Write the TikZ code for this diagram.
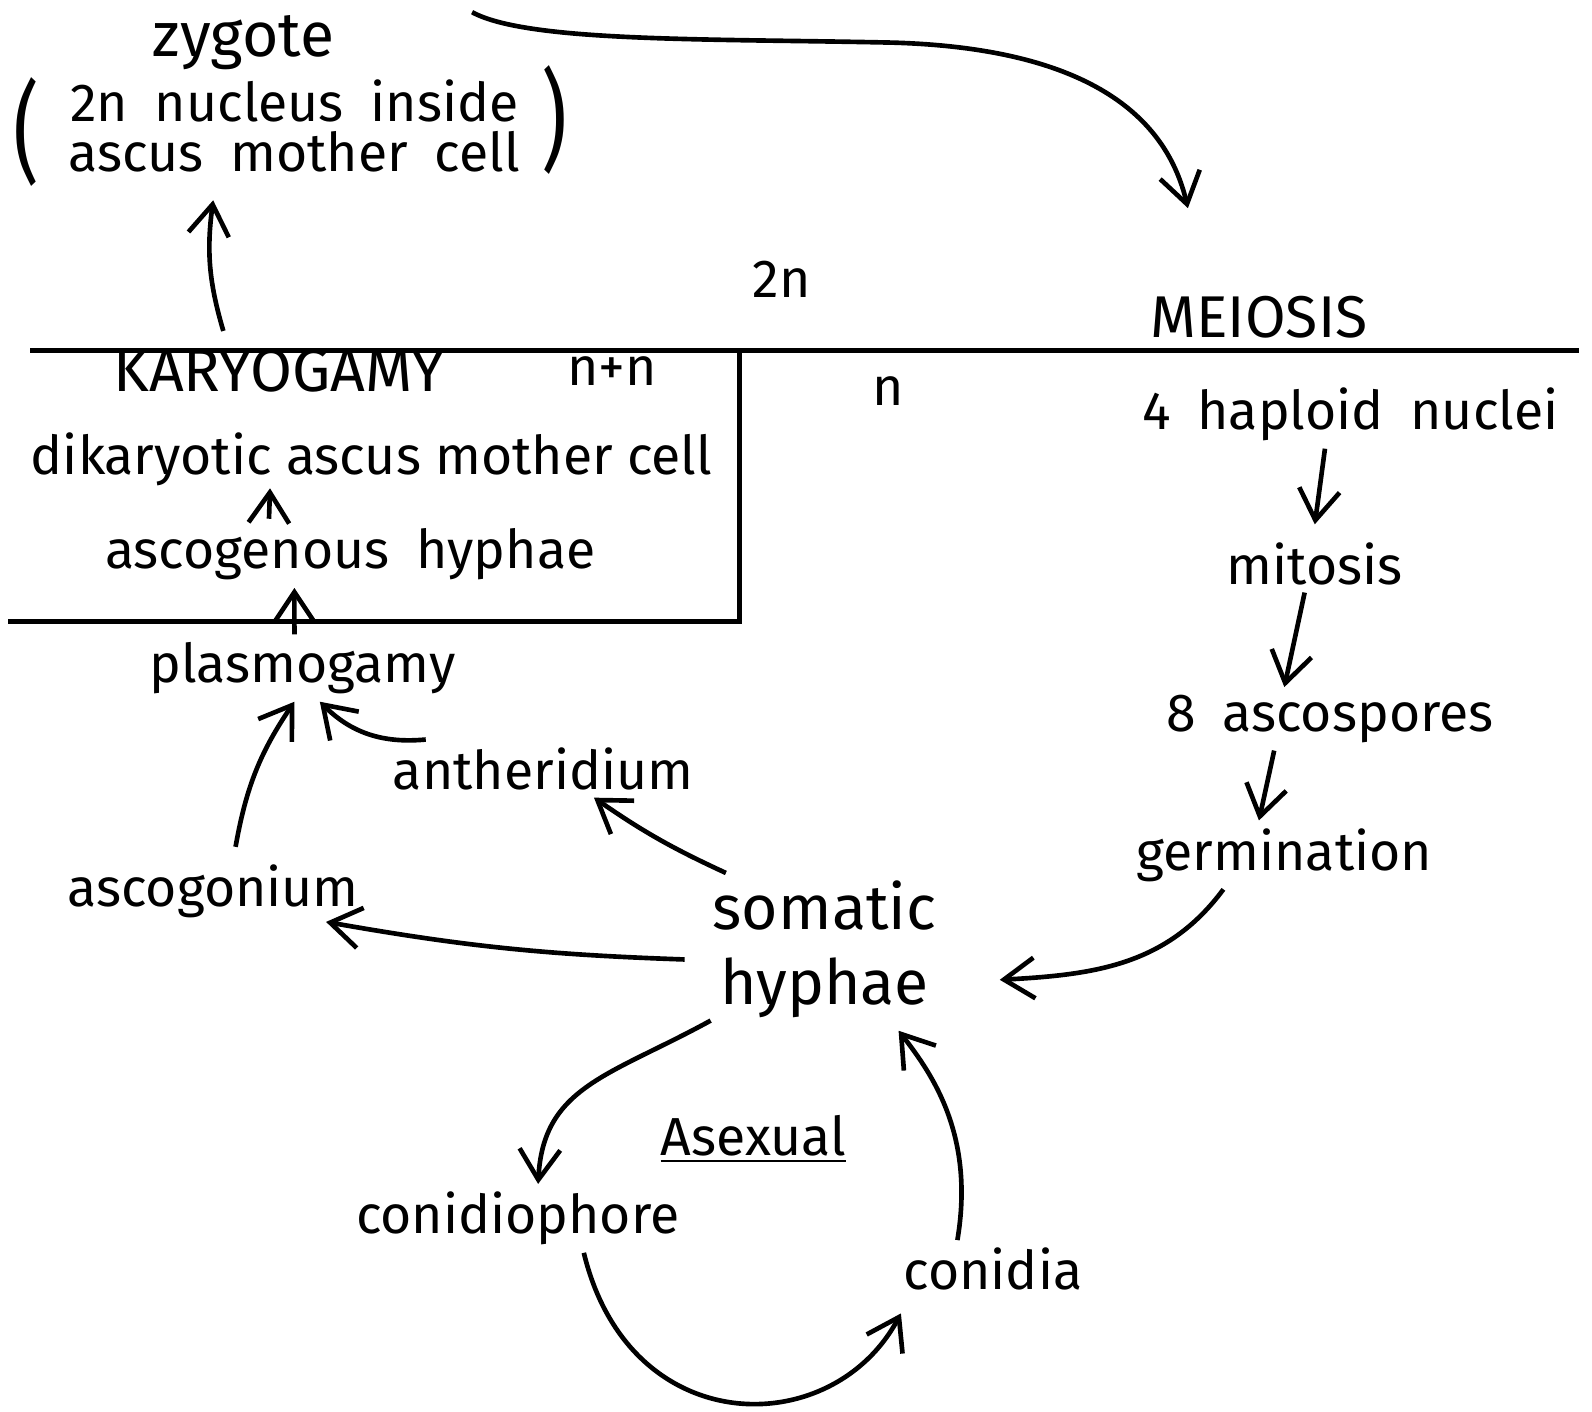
\documentclass[tikz,border=0pt]{standalone}
\usepackage{fontspec}
\setmainfont{Fira Sans}
\usetikzlibrary{arrows.meta,positioning}
\begin{document}
\begin{tikzpicture}[x=0.01cm,y=0.01cm]
        \tikzstyle{line} = [-{Straight Barb[length=3mm,width=4mm]}, line width=1.3pt]
        \tikzstyle{rule} = [line width=1.4pt]
        \tikzstyle{txt} = [inner sep=2pt, font=\fontsize{15}{18}\selectfont]
        \tikzstyle{big} = [inner sep=2pt, font=\fontsize{17.5}{21}\selectfont]
        \tikzstyle{paren} = [inner sep=0pt, font=\fontsize{28}{28}\selectfont]
        \useasboundingbox (0,0) rectangle (1568,-1390);

        % upper part, 2n
        \node(zygote) [big] at (240,-42) {zygote};
        \node(zygotetext) [txt, align=center, font=\fontsize{15}{14}\selectfont] at (290,-124) {2n\enspace nucleus\enspace inside\\ ascus\enspace mother\enspace cell};
        \node(lparen) [paren] at (26,-130) {\scalebox{0.8}[1.1]{(}};
        \node(rparen) [paren] at (546,-118) {\scalebox{0.8}[1.1]{)}};
        \node(twon) [txt] at (770,-275) {2n};
        \node(meiosis) [txt, font=\fontsize{16.5}{19}\selectfont] at (1240,-312) {MEIOSIS};
        \coordinate(topstart) at (465,-12);
        \coordinate(topend) at (1170,-205);

        % dikaryotic box
        \draw[rule] (30,-345) -- (1555,-345);
        \draw[rule] (8,-612) -- (728,-612) -- (728,-345);
        \node(karyogamy) [txt, font=\fontsize{17}{20}\selectfont] at (275,-365) {KARYOGAMY};
        \node(nn) [txt, right=1.05cm of karyogamy] {n+n};
        \node(n) [txt] at (875,-385) {n};
        \node(dikaryotic) [txt] at (366,-452) {dikaryotic ascus mother cell};
        \node(ascogenous) [txt] at (345,-546) {ascogenous\enspace hyphae};
        \node(plasmogamy) [txt] at (298,-658) {plasmogamy};
        \node(antheridium) [txt] at (535,-757) {antheridium};
        \node(ascogonium) [txt] at (210,-878) {ascogonium};
        \node(somatic) [big, align=center] at (812,-935) {somatic\\ hyphae};

        % haploid side
        \node(haploid) [txt] at (1330,-408) {4\enspace haploid\enspace nuclei};
        \node(mitosis) [txt] at (1295,-555) {mitosis};
        \node(ascospores) [txt] at (1310,-708) {8\enspace ascospores};
        \node(germination) [txt] at (1265,-842) {germination};

        % asexual cycle
        \node(asexual) [txt] at (742,-1122) {\underline{Asexual}};
        \node(conidiophore) [txt] at (510,-1200) {conidiophore};
        \node(conidia) [txt] at (978,-1250) {conidia};

        \draw[line] (topstart) .. controls (520,-42) and (700,-38) .. (880,-42)
        .. controls (1080,-48) and (1150,-120) .. (topend);
        \draw[line] ([xshift=-0.55cm,yshift=0.1cm]karyogamy.north) to[bend left=12] ([xshift=-0.8cm,yshift=-0.2cm]zygotetext.south);
        \draw[line] ([xshift=-0.8cm,yshift=0.02cm]ascogenous.north) -- ([xshift=-1cm,yshift=0.05cm]dikaryotic.south);
        \draw[line] ([xshift=-0.08cm]plasmogamy.north) -- ([xshift=-0.55cm]ascogenous.south);
        \draw[line] ([xshift=0.22cm,yshift=0.1cm]ascogonium.north) to[bend left=12] ([xshift=-0.08cm]plasmogamy.south);
        \draw[line] ([xshift=0.4cm]antheridium.north west) to[bend left=25] ([xshift=0.17cm]plasmogamy.south);
        \draw[line] ([xshift=-0.97cm]somatic.north) to[bend left=5] ([xshift=0.5cm]antheridium.south);
        \draw[line] ([xshift=-0.2cm,yshift=-0.1cm]somatic.west) to[bend left=4] ([xshift=-0.4cm,yshift=-0.3cm]ascogonium.east);
        \draw[line] ([xshift=-0.25cm]haploid.south) -- ([yshift=0.1cm]mitosis.north);
        \draw[line] ([xshift=-0.1cm]mitosis.south) -- ([xshift=-0.45cm]ascospores.north);
        \draw[line] ([xshift=-0.55cm]ascospores.south) -- ([xshift=-0.25cm]germination.north);
        \draw[line] ([xshift=-0.6cm]germination.south) .. controls (1150,-950) and (1080,-960) .. ([xshift=0.55cm,yshift=-0.3cm]somatic.east);
        \draw[line] ([xshift=-1.12cm,yshift=0.05cm]somatic.south) .. controls (600,-1060) and (535,-1070) .. ([xshift=0.2cm]conidiophore.north);
        \draw[line] ([xshift=0.65cm]conidiophore.south) .. controls (620,-1420) and (820,-1420) .. ([xshift=0.05cm,yshift=-0.15cm]conidia.south west);
        \draw[line] ([xshift=-0.35cm]conidia.north) .. controls (960,-1120) and (920,-1060) .. ([xshift=0.73cm,yshift=-0.05cm]somatic.south);
    \end{tikzpicture}
\end{document}
